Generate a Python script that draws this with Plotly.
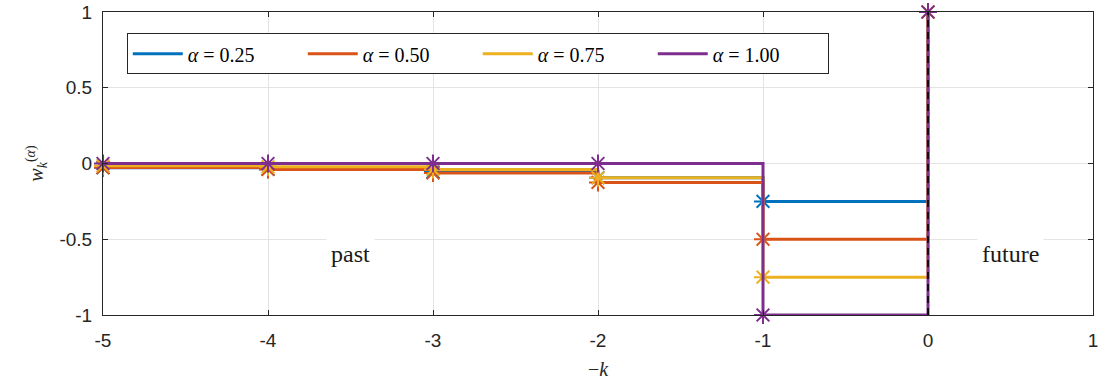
import plotly.graph_objects as go

# -k positions (ascending) and weights w_k for k = 5..0
x_vals = [-5, -4, -3, -2, -1, 0]
w_025 = [-0.028, -0.038, -0.055, -0.094, -0.25, 1.0]
w_050 = [-0.027, -0.039, -0.0625, -0.125, -0.5, 1.0]
w_075 = [-0.015, -0.022, -0.039, -0.094, -0.75, 1.0]
w_100 = [0.0, 0.0, 0.0, 0.0, -1.0, 1.0]
labels = ["0.25", "0.50", "0.75", "1.00"]
colors = ["#0072BD", "#D95319", "#EDB120", "#7E2F8E"]

x_ticks = [-5, -4, -3, -2, -1, 0, 1]
x_ticktext = ["-5", "-4", "-3", "-2", "-1", "0", "1"]
y_ticks = [-1, -0.5, 0, 0.5, 1]
y_ticktext = ["-1", "-0.5", "0", "0.5", "1"]

fig = go.Figure()
for w, lab, c in zip([w_025, w_050, w_075, w_100], labels, colors):
    fig.add_trace(go.Scatter(
        x=x_vals, y=w, mode="lines", line=dict(color=c, width=3, shape="hv"),
        name=f"<i>α</i> = {lab}", cliponaxis=False))
    fig.add_trace(go.Scatter(
        x=x_vals, y=w, mode="markers", showlegend=False, cliponaxis=False,
        marker=dict(symbol="asterisk-open", size=15, color=c, line=dict(color=c, width=2))))

fig.add_shape(type="line", xref="x", yref="y", x0=0, x1=0, y0=-1, y1=1,
              line=dict(color="black", width=1.6, dash="7px,5px"))

fig.add_annotation(x=-3.5, y=-0.6, text="past", showarrow=False, xref="x", yref="y",
                   font=dict(family="Liberation Serif", size=24, color="#1a1a1a"),
                   bgcolor="white", borderpad=4)
fig.add_annotation(x=0.5, y=-0.6, text="future", showarrow=False, xref="x", yref="y",
                   font=dict(family="Liberation Serif", size=24, color="#1a1a1a"),
                   bgcolor="white", borderpad=4)

axis_common = dict(showgrid=True, gridcolor="#e3e3e3", gridwidth=1, zeroline=False,
                   showline=True, linecolor="#262626", linewidth=1, mirror="ticks",
                   ticks="inside", ticklen=5, tickcolor="#262626", ticklabeloverflow="allow",
                   automargin=False,
                   tickfont=dict(family="Liberation Sans", size=19, color="#262626"))

fig.update_layout(
    width=1099, height=387, plot_bgcolor="white", paper_bgcolor="white",
    margin=dict(l=103, r=6, t=12, b=72),
    xaxis=dict(range=[-5, 1], tickvals=x_ticks, ticktext=x_ticktext, ticklabelstandoff=8,
               title=dict(text="−<i>k</i>", font=dict(family="Liberation Serif", size=20, color="#262626"), standoff=12),
               **axis_common),
    yaxis=dict(range=[-1, 1], tickvals=y_ticks, ticktext=y_ticktext, ticklabelstandoff=6,
               title=dict(text="<i>w</i><sub><i>k</i></sub><sup>(<i>α</i>)</sup>",
                          font=dict(family="Liberation Serif", size=20, color="#262626"), standoff=10),
               **axis_common),
    legend=dict(orientation="h", x=0.024, y=0.93, xanchor="left", yanchor="top",
                bgcolor="white", bordercolor="#262626", borderwidth=1,
                font=dict(family="Liberation Serif", size=20, color="black"),
                entrywidth=110, entrywidthmode="pixels", itemwidth=50,
                tracegroupgap=0),
    showlegend=True,
)

fig.write_html("out.html")
